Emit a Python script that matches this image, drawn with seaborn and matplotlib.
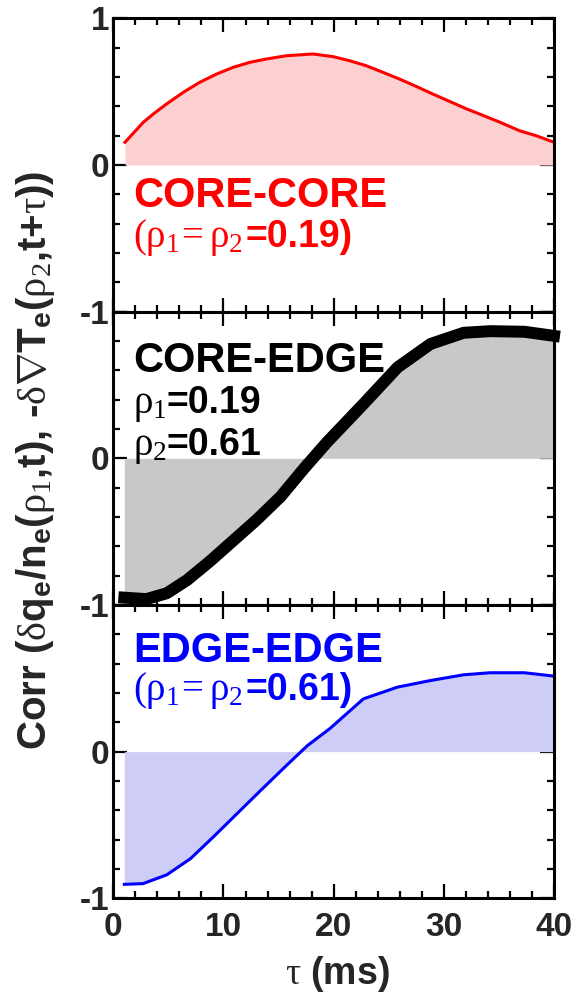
import matplotlib
matplotlib.use("Agg")
import matplotlib.pyplot as plt
from matplotlib.ticker import MultipleLocator, FixedLocator
import seaborn as sns
import pandas as pd

# ---- data ----
tau_cc = [1.06, 2.72, 3.63, 4.83, 6.34, 7.85, 9.37, 10.88, 12.39, 13.9, 15.71, 18.13, 19.94,
          21.45, 22.96, 24.47, 25.98, 27.49, 29.0, 30.51, 32.02, 33.53, 35.05, 36.86, 38.37, 40.0]
corr_cc = [0.155, 0.291, 0.348, 0.416, 0.495, 0.564, 0.620, 0.666, 0.700, 0.723, 0.745, 0.757, 0.739,
           0.711, 0.677, 0.632, 0.586, 0.536, 0.484, 0.434, 0.384, 0.339, 0.293, 0.234, 0.200, 0.155]

tau_ce = [1.0, 3.0, 4.85, 6.7, 8.8, 10.9, 13.0, 15.2, 17.3, 19.4, 22.7, 25.8, 28.8, 31.8, 34.2, 37.3, 40.0]
corr_ce = [-0.95, -0.96, -0.92, -0.83, -0.70, -0.56, -0.42, -0.26, -0.07, 0.11, 0.37, 0.62, 0.78, 0.856, 0.867, 0.863, 0.835]

tau_ee = [1.0, 2.7, 4.85, 7.0, 9.1, 11.2, 13.3, 15.5, 17.6, 19.7, 22.7, 25.8, 28.8, 31.8, 34.2, 37.3, 40.0]
corr_ee = [-0.905, -0.90, -0.84, -0.73, -0.58, -0.425, -0.27, -0.11, 0.04, 0.16, 0.36, 0.44, 0.485, 0.524, 0.538, 0.538, 0.515]

xticks = [0, 10, 20, 30, 40]
yticklabels_top = ["-1", "0", "1"]

sns.set_theme(style="ticks")
plt.rcParams["font.family"] = ["Liberation Sans", "DejaVu Sans"]
plt.rcParams["mathtext.fontset"] = "custom"
plt.rcParams["mathtext.rm"] = "Liberation Serif:weight=normal:style=normal"
plt.rcParams["mathtext.it"] = "Liberation Serif:weight=normal:style=normal"
plt.rcParams["mathtext.bf"] = "Liberation Sans:weight=bold:style=normal"
plt.rcParams["mathtext.default"] = "rm"

fig, axes = plt.subplots(3, 1, sharex=True, figsize=(5.85, 9.97), dpi=100)
fig.subplots_adjust(left=0.1937, right=0.947, top=0.9816, bottom=0.099, hspace=0)

panels = [
    (tau_cc, corr_cc, "#ff0000", "#fcd0d0", 2.2),
    (tau_ce, corr_ce, "#000000", "#c8c8c8", 8.6),
    (tau_ee, corr_ee, "#0000ff", "#cdcdf7", 2.2),
]

TICK_FS = 24
for i, (ax, (t, c, col, fcol, lw)) in enumerate(zip(axes, panels)):
    df = pd.DataFrame({"tau": t, "corr": c})
    ax.fill_between(df["tau"], df["corr"], 0, color=fcol, linewidth=0, zorder=1)
    sns.lineplot(data=df, x="tau", y="corr", ax=ax, color=col, linewidth=lw,
                 zorder=3, solid_capstyle="projecting")
    for ln in ax.lines:
        ln.set_clip_on(i != 1)
    ax.set_xlim(0, 40)
    ax.set_ylim(-1, 1)
    ax.set_xlabel("")
    ax.set_ylabel("")
    ax.xaxis.set_major_locator(FixedLocator(xticks))
    ax.xaxis.set_minor_locator(MultipleLocator(2))
    ax.yaxis.set_minor_locator(MultipleLocator(0.2))
    ax.tick_params(which="both", direction="in", top=True, right=True,
                   width=1.6, color="black")
    ax.tick_params(which="major", length=10, labelsize=TICK_FS, pad=3)
    ax.tick_params(which="minor", length=5)
    ax.tick_params(axis="x", which="major", pad=10)
    for s in ax.spines.values():
        s.set_linewidth(2.2)
        s.set_color("black")
        s.set_zorder(5)
    ax.set_yticks([-1, 0, 1])
    if i == 0:
        ax.set_yticklabels(yticklabels_top, fontweight="bold", fontsize=TICK_FS)
    else:
        ax.set_yticklabels(yticklabels_top[:2] + [""], fontweight="bold", fontsize=TICK_FS)

axes[2].set_xticks(xticks)
axes[2].set_xticklabels([str(v) for v in xticks], fontweight="bold", fontsize=TICK_FS)

X0, X1 = 113.3, 554.0


def fx(px):
    return (px - X0) / (X1 - X0)


BIG = 30
MATH = 28
BOLD2 = 27


def label_line(ax, y, math_part, bold_part, x_bold_px, color):
    ax.text(fx(133), y, math_part, transform=ax.transAxes, color=color,
            fontsize=MATH, va="baseline", ha="left")
    ax.text(fx(x_bold_px), y, bold_part, transform=ax.transAxes, color=color,
            fontsize=BOLD2, fontweight="bold", va="baseline", ha="left")


# panel 1
axes[0].text(fx(133), 0.357, "CORE-CORE", transform=axes[0].transAxes, color="#ff0000",
             fontsize=BIG, fontweight="bold", va="baseline", ha="left")
label_line(axes[0], 0.2205, r"$(\rho_1\!=\rho_2$", "=0.19)", 245, "#ff0000")
# panel 2
axes[1].text(fx(133), 0.7945, "CORE-EDGE", transform=axes[1].transAxes, color="black",
             fontsize=BIG, fontweight="bold", va="baseline", ha="left")
label_line(axes[1], 0.655, r"$\rho_1$", "=0.19", 166, "black")
label_line(axes[1], 0.512, r"$\rho_2$", "=0.61", 166, "black")
# panel 3
axes[2].text(fx(133), 0.806, "EDGE-EDGE", transform=axes[2].transAxes, color="#0000ff",
             fontsize=BIG, fontweight="bold", va="baseline", ha="left")
label_line(axes[2], 0.676, r"$(\rho_1\!=\rho_2$", "=0.61)", 245, "#0000ff")

fig.text(36 / 585, 1 - 460 / 997,
         r"Corr ($\delta$q$_\mathbf{e}$/n$_\mathbf{e}$($\rho_1$,t), -$\delta\nabla$T$_\mathbf{e}$($\rho_2$,t+$\tau$))",
         rotation=90, ha="center", va="center", fontsize=29, fontweight="bold")
fig.text(337 / 585, 1 - 974 / 997, r"$\tau$ (ms)", ha="center", va="center",
         fontsize=27, fontweight="bold")

fig.savefig("out.png", dpi=100)
